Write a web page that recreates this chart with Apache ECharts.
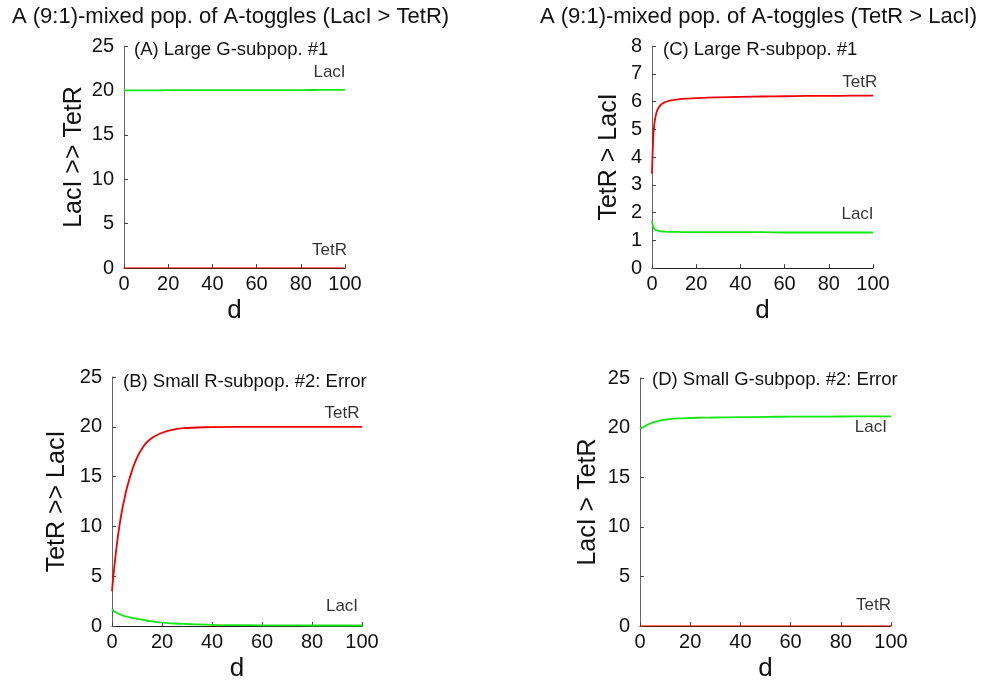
<!DOCTYPE html>
<html>
<head>
<meta charset="utf-8">
<script src="https://cdn.jsdelivr.net/npm/echarts@6/dist/echarts.min.js"></script>
<style>
  html, body { margin: 0; padding: 0; background: #fff; }
  #chart { width: 987px; height: 683px; }
</style>
</head>
<body>
<div id="chart"></div>
<script>
// Time points (d) at which every trajectory is sampled
const dPoints = [0, 0.5, 1, 2, 3, 4, 5, 6, 8, 10, 12, 15, 20, 25, 30, 40, 50, 60, 70, 80, 90, 100];

// (A) Large G-subpop. #1
const lacI_A = [20.0, 20.0, 20.0, 20.0, 20.0, 20.0, 20.0, 20.0, 20.01, 20.01, 20.01, 20.01, 20.02, 20.02, 20.02, 20.03, 20.03, 20.04, 20.04, 20.04, 20.05, 20.05];
const tetR_A = [0.02, 0.02, 0.02, 0.02, 0.02, 0.02, 0.02, 0.02, 0.02, 0.02, 0.02, 0.02, 0.02, 0.02, 0.02, 0.02, 0.02, 0.02, 0.02, 0.02, 0.02, 0.02];

// (B) Small R-subpop. #2: Error
const tetR_B = [3.5, 4.9, 6.1, 8.3, 10.1, 11.6, 12.8, 13.9, 15.6, 16.9, 17.8, 18.7, 19.4, 19.75, 19.88, 19.97, 20.0, 20.0, 20.0, 20.0, 20.0, 20.0];
const lacI_B = [1.7, 1.55, 1.45, 1.3, 1.18, 1.08, 1.0, 0.93, 0.82, 0.72, 0.63, 0.5, 0.33, 0.25, 0.2, 0.12, 0.09, 0.07, 0.06, 0.05, 0.05, 0.05];

// (C) Large R-subpop. #1
const tetR_C = [3.4, 4.6, 5.15, 5.6, 5.78, 5.88, 5.94, 5.98, 6.03, 6.06, 6.08, 6.1, 6.12, 6.14, 6.15, 6.17, 6.18, 6.19, 6.2, 6.2, 6.21, 6.21];
const lacI_C = [1.7, 1.5, 1.42, 1.36, 1.34, 1.32, 1.31, 1.31, 1.3, 1.3, 1.3, 1.29, 1.29, 1.29, 1.29, 1.29, 1.29, 1.28, 1.28, 1.28, 1.28, 1.28];

// (D) Small G-subpop. #2: Error
const lacI_D = [20.0, 19.95, 20.0, 20.15, 20.3, 20.4, 20.5, 20.58, 20.7, 20.8, 20.86, 20.92, 20.97, 21.0, 21.02, 21.05, 21.08, 21.1, 21.11, 21.12, 21.13, 21.14];
const tetR_D = [0.02, 0.02, 0.02, 0.02, 0.02, 0.02, 0.02, 0.02, 0.02, 0.02, 0.02, 0.02, 0.02, 0.02, 0.02, 0.02, 0.02, 0.02, 0.02, 0.02, 0.02, 0.02];

// Curve name annotations, placed in data coordinates [d, value]
const labelsA = [['LacI', 93, 22.0], ['TetR', 93, 2.0]];
const labelsB = [['TetR', 92, 21.4], ['LacI', 92, 2.0]];
const labelsC = [['TetR', 94, 6.7], ['LacI', 93, 1.95]];
const labelsD = [['LacI', 92, 20.0], ['TetR', 93, 2.05]];

const mainTitles = ['A (9:1)-mixed pop. of A-toggles (LacI > TetR)', 'A (9:1)-mixed pop. of A-toggles (TetR > LacI)'];
const panelTitles = ['(A) Large G-subpop. #1', '(B) Small R-subpop. #2: Error', '(C) Large R-subpop. #1', '(D) Small G-subpop. #2: Error'];
const yNames = ['LacI >> TetR', 'TetR >> LacI', 'TetR > LacI', 'LacI > TetR'];
const yMax = [25, 25, 8, 25];
const yStep = [5, 5, 1, 5];

const FONT = 'Liberation Sans, Arial, sans-serif';
const GREEN = '#14e614';
const RED = '#f00000';

const grids = [
  { left: 124, top: 46, width: 221, height: 222 },
  { left: 112, top: 377, width: 250, height: 252 },
  { left: 652, top: 46, width: 221, height: 222 },
  { left: 640, top: 378, width: 251, height: 251 }
];
const yNameGap = [37, 42, 30, 39];

const toPairs = (ys) => ys.map((v, i) => [dPoints[i], v]);

function lineSeries(name, idx, ys, color, opacity) {
  return {
    type: 'line', name, xAxisIndex: idx, yAxisIndex: idx,
    data: toPairs(ys), showSymbol: false, symbol: 'none', smooth: true,
    lineStyle: { color, width: 1.8, opacity: opacity == null ? 1 : opacity },
    z: 3, silent: true, animation: false
  };
}

function labelSeries(idx, labels) {
  return {
    type: 'scatter', xAxisIndex: idx, yAxisIndex: idx, symbolSize: 0,
    data: labels.map(l => ({ value: [l[1], l[2]], name: l[0] })),
    label: { show: true, position: 'inside', formatter: p => p.name, color: '#000', fontSize: 17, fontFamily: FONT },
    silent: true, animation: false
  };
}

const xAxes = grids.map((g, i) => ({
  type: 'value', gridIndex: i, min: 0, max: 100, interval: 20,
  name: 'd', nameLocation: 'middle', nameGap: 30,
  nameTextStyle: { fontSize: 26, fontFamily: FONT, color: '#111', verticalAlign: 'top' },
  axisLine: { show: true, onZero: false, lineStyle: { color: '#222', width: 1 } },
  axisTick: { show: true, inside: true, length: 4, lineStyle: { color: '#444' } },
  axisLabel: { fontSize: 20, fontFamily: FONT, color: '#111', margin: 6 },
  splitLine: { show: false }
}));

const yAxes = grids.map((g, i) => ({
  type: 'value', gridIndex: i, min: 0, max: yMax[i], interval: yStep[i],
  name: yNames[i], nameLocation: 'middle', nameGap: yNameGap[i],
  nameTextStyle: { fontSize: 25, fontFamily: FONT, color: '#111' },
  axisLine: { show: true, lineStyle: { color: '#666', width: 1 } },
  axisTick: { show: true, inside: true, length: 4, lineStyle: { color: '#444' } },
  axisLabel: { fontSize: 20, fontFamily: FONT, color: '#111', margin: 10 },
  splitLine: { show: false }
}));

const titles = [
  { text: mainTitles[0], left: 12, top: 6 },
  { text: mainTitles[1], left: 540, top: 6 },
  { text: panelTitles[0], left: 134, top: 40, small: true },
  { text: panelTitles[1], left: 123, top: 372, small: true },
  { text: panelTitles[2], left: 663, top: 40, small: true },
  { text: panelTitles[3], left: 652, top: 370, small: true }
].map(t => ({
  text: t.text, left: t.left, top: t.top, padding: 0,
  textStyle: { fontSize: t.small ? 18.5 : 22, fontWeight: 'normal', fontFamily: FONT, color: '#111' }
}));

const option = {
  backgroundColor: '#fff',
  animation: false,
  title: titles,
  grid: grids,
  xAxis: xAxes,
  yAxis: yAxes,
  series: [
    lineSeries('LacI', 0, lacI_A, GREEN),
    lineSeries('TetR', 0, tetR_A, RED, 0.55),
    labelSeries(0, labelsA),
    lineSeries('TetR', 1, tetR_B, RED),
    lineSeries('LacI', 1, lacI_B, GREEN),
    labelSeries(1, labelsB),
    lineSeries('TetR', 2, tetR_C, RED),
    lineSeries('LacI', 2, lacI_C, GREEN),
    labelSeries(2, labelsC),
    lineSeries('LacI', 3, lacI_D, GREEN),
    lineSeries('TetR', 3, tetR_D, RED, 0.55),
    labelSeries(3, labelsD)
  ]
};

const chart = echarts.init(document.getElementById('chart'), null, { renderer: 'canvas' });
chart.setOption(option);
</script>
</body>
</html>
